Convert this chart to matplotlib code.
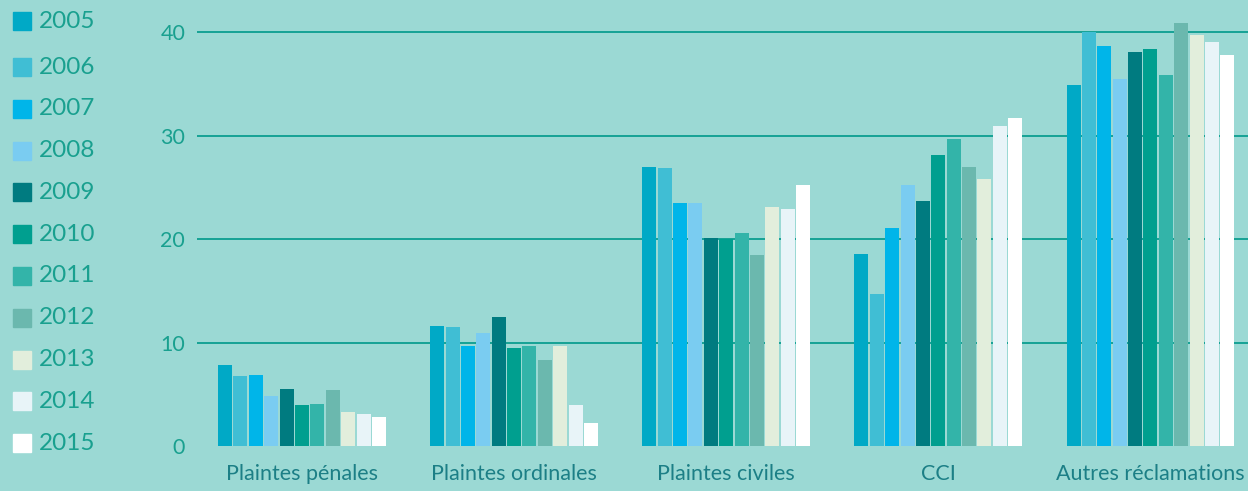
import matplotlib
matplotlib.use("Agg")
import matplotlib.pyplot as plt
import numpy as np

# categories and yearly values
categories = ["Plaintes pénales", "Plaintes ordinales", "Plaintes civiles", "CCI", "Autres réclamations"]
years = ["2005", "2006", "2007", "2008", "2009", "2010", "2011", "2012", "2013", "2014", "2015"]
v2005 = [7.8, 11.6, 27.0, 18.6, 34.9]
v2006 = [6.8, 11.5, 26.9, 14.7, 40.0]
v2007 = [6.9, 9.7, 23.5, 21.1, 38.7]
v2008 = [4.8, 10.9, 23.5, 25.2, 35.5]
v2009 = [5.5, 12.5, 20.1, 23.7, 38.1]
v2010 = [4.0, 9.5, 20.0, 28.1, 38.4]
v2011 = [4.1, 9.7, 20.6, 29.7, 35.9]
v2012 = [5.4, 8.3, 18.5, 27.0, 40.9]
v2013 = [3.3, 9.7, 23.1, 25.8, 39.7]
v2014 = [3.1, 4.0, 22.9, 30.9, 39.0]
v2015 = [2.8, 2.2, 25.2, 31.7, 37.8]
series = [v2005, v2006, v2007, v2008, v2009, v2010, v2011, v2012, v2013, v2014, v2015]
colors = ["#00A9C6", "#40BED4", "#00B5E9", "#7ACCF1", "#007B80", "#009F8F",
          "#33B4A9", "#6BB8AE", "#E2EEDC", "#E8F4F8", "#FFFFFF"]

BG = "#9BD9D4"
GRID = "#16A295"
TICK = "#19A08F"
CAT = "#1C7F86"

plt.rcParams["font.family"] = ["Lato", "DejaVu Sans"]

fig = plt.figure(figsize=(12.48, 4.91), dpi=100, facecolor=BG)
ax = fig.add_axes([197 / 1248, 45 / 491, 1 - 197 / 1248, 446 / 491])
ax.set_facecolor(BG)

x = np.arange(len(categories))
slot = 0.0725
width = 0.066
n = len(series)
for i, (vals, col) in enumerate(zip(series, colors)):
    off = (i - (n - 1) / 2) * slot
    ax.bar(x + off, vals, width=width, color=col, zorder=3, label=years[i])

ax.set_xlim(-0.495, 4.46)
ax.set_ylim(0, 43.1)
ax.set_yticks([0, 10, 20, 30, 40])
ax.yaxis.grid(True, color=GRID, linewidth=1.4, zorder=0)
ax.set_axisbelow(True)
for s in ax.spines.values():
    s.set_visible(False)
ax.tick_params(axis="both", length=0)
ax.tick_params(axis="y", labelcolor=TICK, labelsize=15.5, pad=8.5)
ax.set_xticks(x)
ax.set_xticklabels(categories, color=CAT, fontsize=15.5)
ax.tick_params(axis="x", pad=13)
# no gridline at zero in the original
ax.get_ygridlines()[0].set_visible(False)

# legend down the left edge (first entry sits a bit higher)
for i, (yr, col) in enumerate(zip(years, colors)):
    yc = 21 if i == 0 else 67 + (i - 1) * 41.8
    fig.patches.append(plt.Rectangle((13 / 1248, 1 - (yc + 9) / 491), 18 / 1248, 18 / 491,
                                     transform=fig.transFigure, color=col, figure=fig))
    fig.text(39 / 1248, 1 - yc / 491, yr, color=TICK, fontsize=17.5, va="center", ha="left")

fig.savefig("out.png", dpi=100, facecolor=BG)
